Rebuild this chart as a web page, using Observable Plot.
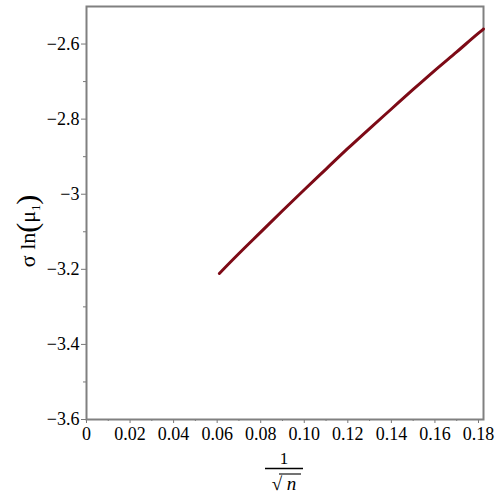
<!DOCTYPE html>
<html><head><meta charset="utf-8">
<script src="https://cdn.jsdelivr.net/npm/d3@7"></script>
<script src="https://cdn.jsdelivr.net/npm/@observablehq/plot@0.6"></script>
<style>body{margin:0;background:#fff}</style>
</head><body><div id="chart"></div>
<script>
const xValues = [0.061, 0.07, 0.08, 0.09, 0.10, 0.11, 0.12, 0.13, 0.14, 0.15, 0.16, 0.17, 0.18, 0.1823];
const yValues = [-3.211, -3.158, -3.101, -3.044, -2.988, -2.933, -2.878, -2.825, -2.773, -2.721, -2.670, -2.621, -2.571, -2.560];
const xTicks = [0, 0.02, 0.04, 0.06, 0.08, 0.10, 0.12, 0.14, 0.16, 0.18];
const xMinorTicks = [0.01, 0.03, 0.05, 0.07, 0.09, 0.11, 0.13, 0.15, 0.17];
const yTicks = [-3.6, -3.4, -3.2, -3.0, -2.8, -2.6];
const yMinorTicks = [-3.5, -3.3, -3.1, -2.9, -2.7];

const serif = "'Liberation Serif', 'Times New Roman', serif";
const data = xValues.map((x, i) => ({x, y: yValues[i]}));

const plot = Plot.plot({
  width: 500, height: 500,
  marginLeft: 86, marginRight: 17, marginTop: 6, marginBottom: 81,
  style: {fontFamily: serif, fontSize: "18px", background: "#fff", color: "#000"},
  x: {domain: [0, 0.1823]},
  y: {domain: [-3.6, -2.5]},
  marks: [
    Plot.axisX({ticks: xTicks, tickSize: 4, tickPadding: 4, stroke: "#777", fill: "#000", fontSize: 18,
      tickFormat: d => d === 0 ? "0" : d.toFixed(2), label: null}),
    Plot.axisX({ticks: xMinorTicks, tickSize: 2, stroke: "#777", tickFormat: null, text: null, label: null}),
    Plot.axisY({ticks: yTicks, tickSize: 5, tickPadding: 2, stroke: "#777", fill: "#000", fontSize: 18,
      tickFormat: d => (d < 0 ? "\u2212" : "") + Math.abs(d), label: null}),
    Plot.axisY({ticks: yMinorTicks, tickSize: 3, stroke: "#777", text: null, label: null}),
    Plot.frame({stroke: "#808080", strokeWidth: 2}),
    Plot.line(data, {x: "x", y: "y", stroke: "#7d0a16", strokeWidth: 3, curve: "monotone-x"})
  ]
});

const svg = d3.select(plot);
// y axis label
const yl = svg.append("text")
  .attr("transform", "translate(35,231) rotate(-90)")
  .attr("text-anchor", "middle")
  .attr("font-family", serif).attr("font-size", 22).attr("fill", "#000");
yl.append("tspan").text("σ ln");
yl.append("tspan").attr("font-size", 30).attr("dy", 2).text("(");
yl.append("tspan").attr("dy", -2).text("μ");
yl.append("tspan").attr("font-size", 12).attr("dy", 5).text("1");
yl.append("tspan").attr("font-size", 30).attr("dy", -3).text(")");

// x axis label: fraction 1 / sqrt(n)
svg.append("text").attr("x", 284).attr("y", 464).attr("text-anchor", "middle")
  .attr("font-family", serif).attr("font-size", 17).attr("fill", "#000").text("1");
svg.append("line").attr("x1", 265).attr("x2", 303).attr("y1", 468.5).attr("y2", 468.5)
  .attr("stroke", "#000").attr("stroke-width", 1.3);
const xl = svg.append("text").attr("x", 284).attr("y", 490).attr("text-anchor", "middle")
  .attr("font-family", serif).attr("font-size", 19).attr("fill", "#000");
xl.append("tspan").text("√");
xl.append("tspan").attr("font-style", "italic").text(" n");
svg.append("line").attr("x1", 279).attr("x2", 301).attr("y1", 474).attr("y2", 474)
  .attr("stroke", "#000").attr("stroke-width", 1.1);

document.getElementById("chart").appendChild(plot);
</script>
</body></html>
